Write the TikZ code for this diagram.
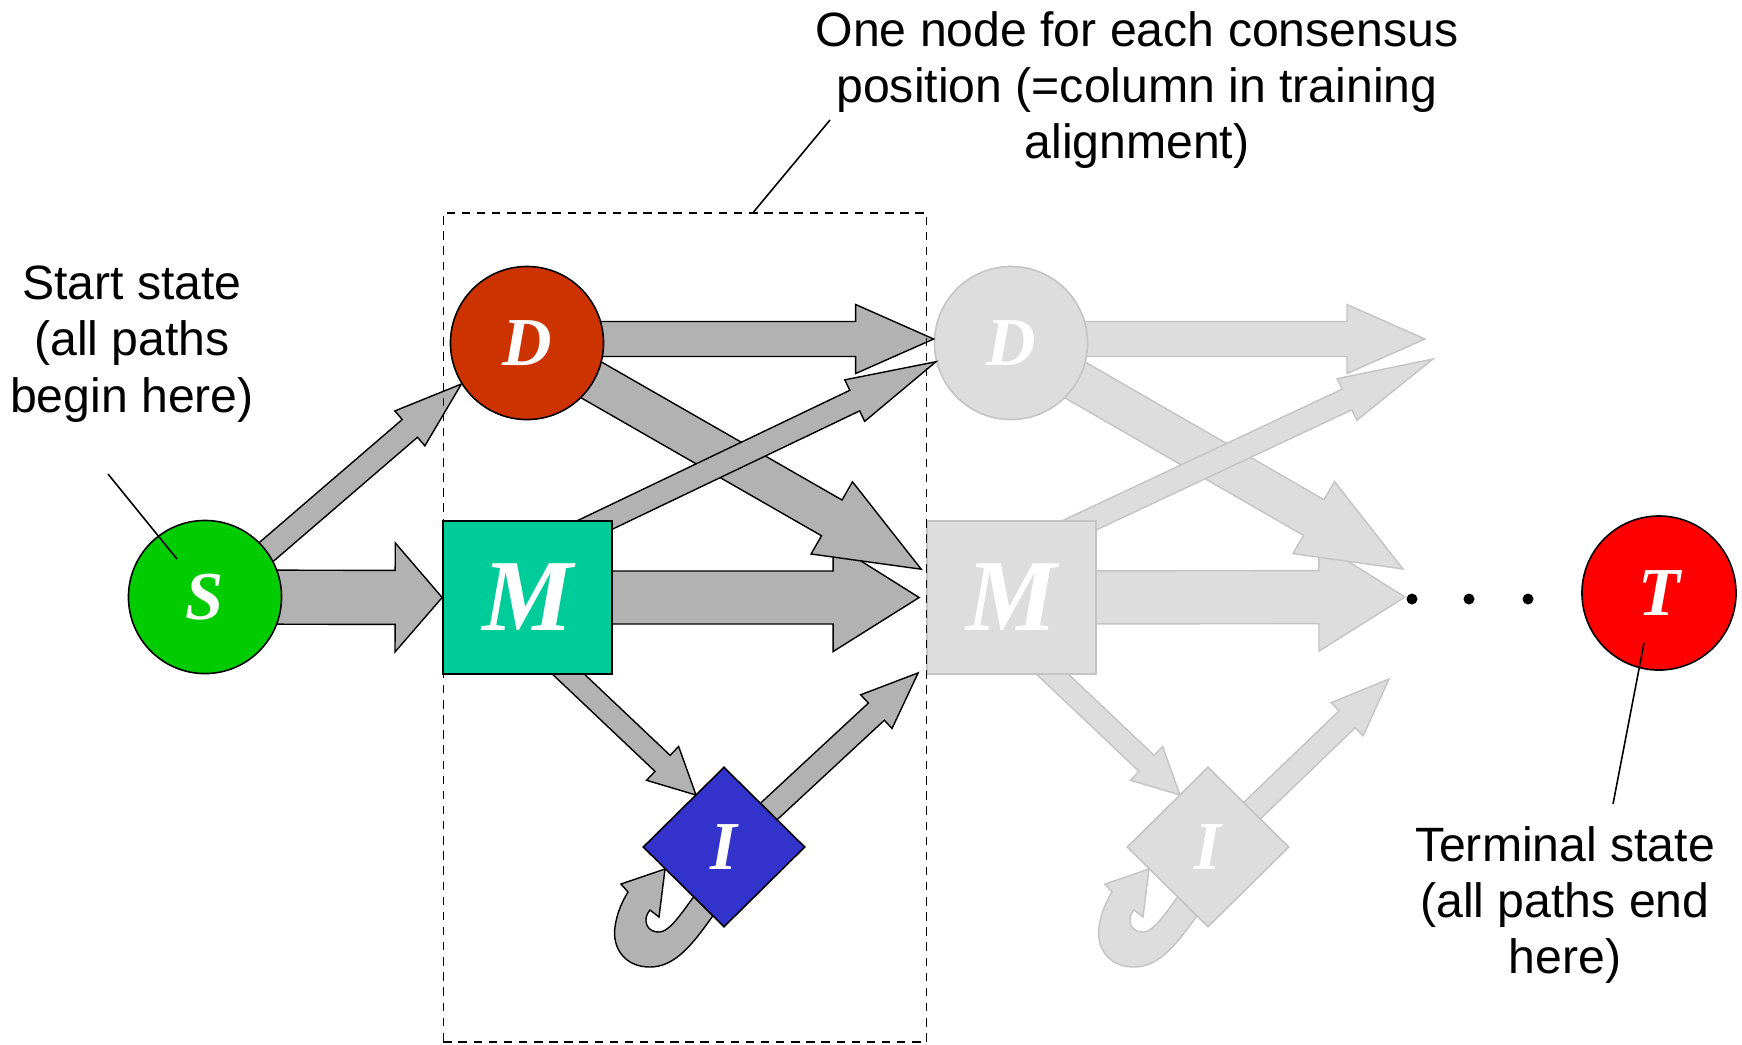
\documentclass[tikz,border=0pt]{standalone}
\usepackage{fontspec}
\setmainfont{Liberation Sans}
\newfontfamily\statefont{Liberation Serif}
\usetikzlibrary{calc,shapes.geometric}

\definecolor{startgreen}{HTML}{00CC00}
\definecolor{delred}{HTML}{CC3300}
\definecolor{matchteal}{HTML}{00CC99}
\definecolor{insblue}{HTML}{3333CC}
\definecolor{termred}{HTML}{FF0000}
\definecolor{arrowgray}{HTML}{B2B2B2}
\definecolor{ghostfill}{HTML}{DDDDDD}
\definecolor{ghostline}{HTML}{C4C4C4}

\pgfdeclarelayer{ghostarrows}
\pgfdeclarelayer{ghostnodes}
\pgfdeclarelayer{arrows}
\pgfsetlayers{ghostarrows,ghostnodes,arrows,main}

% block arrow: #1 style, #2 tail, #3 tip, #4 shaft half-width,
% #5 head half-width, #6 head length
\newcommand\blockarrow[6]{%
  \path (#2) coordinate (ba-tail) (#3) coordinate (ba-tip);
  \path ($(ba-tip)!#6!(ba-tail)$) coordinate (ba-base);
  \draw[#1] ($(ba-tail)!#4!90:(ba-tip)$) -- ($(ba-base)!#4!90:(ba-tip)$)
    -- ($(ba-base)!#5!90:(ba-tip)$) -- (ba-tip)
    -- ($(ba-base)!#5!-90:(ba-tip)$) -- ($(ba-base)!#4!-90:(ba-tip)$)
    -- ($(ba-tail)!#4!-90:(ba-tip)$) -- cycle;}

% self-loop of an insert state, drawn around the node's centre
\newcommand\selfloop[2]{%
  \begin{scope}[shift={(#2.center)}]
    \draw[#1] (6,46) -- (-12,70) .. controls (-30,95) and (-48,120) .. (-74,120)
      .. controls (-100,120) and (-112,100) .. (-109,80)
      .. controls (-107,65) and (-101,53) .. (-96,45)
      -- (-103,37) -- (-59,22) -- (-65,70) -- (-74,63)
      .. controls (-82,72) and (-78,86) .. (-64,85)
      .. controls (-55,84) and (-45,70) .. (-32,52) -- (-16,33) -- cycle;
  \end{scope}}

\newcommand\stlet[1]{\statefont\bfseries\itshape\fontsize{19.5pt}{21pt}\selectfont #1}
\newcommand\bigstlet[1]{\statefont\bfseries\itshape\fontsize{29pt}{31pt}\selectfont #1}
\newcommand\labelfont{\fontsize{13.7pt}{16pt}\selectfont}

\tikzset{
  state/.style={draw=black, line width=0.45pt, inner sep=0pt, text=white},
  ghost/.style={draw=ghostline, fill=ghostfill, line width=0.45pt, inner sep=0pt, text=white},
  roundstate/.style={circle, minimum size=1.53cm},
  matchbox/.style={rectangle, minimum width=1.69cm, minimum height=1.53cm},
  insdiamond/.style={diamond, aspect=1, minimum width=1.62cm, minimum height=1.6cm},
  realarrow/.style={draw=black, fill=arrowgray, line width=0.4pt},
  ghostarrow/.style={draw=ghostline, fill=ghostfill, line width=0.4pt},
  lbl/.style={align=center, inner sep=0pt, font=\labelfont},
  leader/.style={draw=black, line width=0.45pt},
  dotmark/.style={circle, fill=black, inner sep=0pt, minimum size=0.11cm},
  colbox/.style={draw=black, dash pattern=on 2.4pt off 1.9pt, line width=0.45pt, inner sep=0pt},
}

\begin{document}
\begin{tikzpicture}[x=0.01cm, y=-0.01cm]
\useasboundingbox (0,0) rectangle (1742,1044);

% states of one consensus position
\node[state, roundstate, fill=startgreen] (S) at (205,597) {\stlet{S}};
\node[state, roundstate, fill=delred] (D) at (527,343) {\stlet{D}};
\node[state, matchbox, fill=matchteal] (M) at (527.5,597.5) {\bigstlet{M}};
\node[state, insdiamond, fill=insblue] (I) at (724,847) {\stlet{I}};
\node[state, circle, minimum size=1.54cm, fill=termred] (T) at (1659,593) {\stlet{T}};

% the next position, faded
\begin{pgfonlayer}{ghostnodes}
\node[ghost, roundstate] (gD) at (1011,343) {\stlet{D}};
\node[ghost, matchbox] (gM) at (1011.5,597.5) {\bigstlet{M}};
\node[ghost, insdiamond] (gI) at (1208,847) {\stlet{I}};
\end{pgfonlayer}

% open ends of the faded transitions
\coordinate (gDend) at (1425,339);
\coordinate (gDdown) at (1403,569);
\coordinate (gMup) at (1433,359);
\coordinate (gMend) at (1405,597);
\coordinate (gIup) at (1389,679);

% faded transitions
\begin{pgfonlayer}{ghostarrows}
\blockarrow{ghostarrow}{$(gD.center)+(0,-4)$}{gDend}{0.175cm}{0.345cm}{0.78cm}
\blockarrow{ghostarrow}{gM.center}{gMend}{0.265cm}{0.54cm}{0.86cm}
\blockarrow{ghostarrow}{gD.center}{gDdown}{0.206cm}{0.416cm}{1.03cm}
\blockarrow{ghostarrow}{$(gM.center)+(-7,-37)$}{gMup}{0.114cm}{0.23cm}{0.95cm}
\blockarrow{ghostarrow}{$(gM.center)+(-40,0)$}{$(gI.center)+(-28,-52)$}{0.11cm}{0.233cm}{0.46cm}
\blockarrow{ghostarrow}{$(gI.center)+(0,6)$}{gIup}{0.117cm}{0.23cm}{0.58cm}
\selfloop{ghostarrow}{gI}
\end{pgfonlayer}

% transitions
\begin{pgfonlayer}{arrows}
\blockarrow{realarrow}{S.center}{M.west}{0.27cm}{0.545cm}{0.47cm}
\blockarrow{realarrow}{$(S.center)+(31,-19)$}{D.212}{0.117cm}{0.23cm}{0.68cm}
\blockarrow{realarrow}{$(D.center)+(0,-4)$}{$(gD.west)+(0,-4)$}{0.175cm}{0.345cm}{0.78cm}
\blockarrow{realarrow}{M.center}{$(gM.west)+(-7,0)$}{0.265cm}{0.54cm}{0.86cm}
\blockarrow{realarrow}{D.center}{$(gM.north west)+(-5,49)$}{0.206cm}{0.416cm}{1.03cm}
\blockarrow{realarrow}{$(M.center)+(-7,-37)$}{gD.194}{0.114cm}{0.23cm}{0.90cm}
\blockarrow{realarrow}{$(M.center)+(-40,0)$}{$(I.center)+(-28,-52)$}{0.11cm}{0.233cm}{0.46cm}
\blockarrow{realarrow}{$(I.center)+(0,6)$}{$(gM.south west)+(-8,-2)$}{0.117cm}{0.23cm}{0.57cm}
\selfloop{realarrow}{I}
\end{pgfonlayer}

% one consensus column
\node[colbox, minimum width=4.83cm, minimum height=8.29cm] (col) at (685,627.5) {};

% continuation dots
\node[dotmark] (dot1) at (1412,599) {};
\node[dotmark] (dot2) at (1469,599) {};
\node[dotmark] (dot3) at (1528,599) {};

% labels and their leader lines
\node[lbl] (startlbl) at (132,344) {Start state\\(all paths\\begin here)};
\node[lbl] (collbl) at (1137,90) {One node for each consensus\\position (=column in training\\alignment)};
\node[lbl] (termlbl) at (1565,905) {Terminal state\\(all paths end\\here)};

\coordinate (startlead) at (108,474);
\coordinate (collead) at (830,120);
\coordinate (termlead) at (1613,804);
\draw[leader] (startlead) -- ($(S.center)+(-28,-38)$);
\draw[leader] (collead) -- ($(col.north west)+(311,0)$);
\draw[leader] (termlead) -- ($(T.center)+(-15,50)$);
\end{tikzpicture}
\end{document}
